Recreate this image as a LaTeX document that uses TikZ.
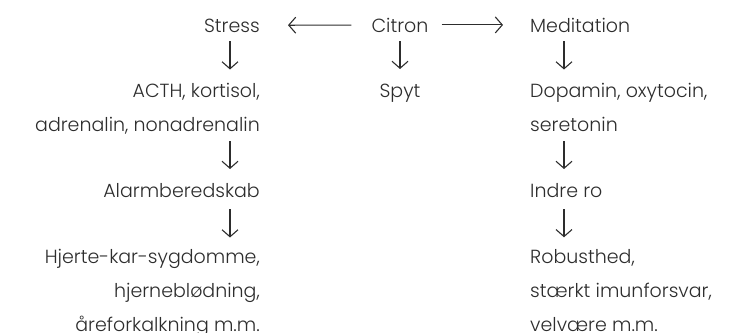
\documentclass[tikz,border=0pt]{standalone}
\usepackage{fontspec}
\setmainfont{Poppins}[UprightFont=* Light]
\usetikzlibrary{arrows.meta}

\definecolor{inkgray}{RGB}{45,45,45}
\tikzset{
  txt/.style={inner sep=0pt, text=inkgray, font=\fontsize{19}{34}\selectfont},
  flow/.style={draw=inkgray, line width=1.1pt,
    -{Straight Barb[length=7pt,width=16pt]}},
}

\begin{document}
\begin{tikzpicture}[x=1pt,y=1pt]
    \useasboundingbox (0,0) rectangle (741,-332);
    \coordinate (lcol) at (230,0);
    \coordinate (mcol) at (400,0);
    \coordinate (rcol) at (564,0);
    % middle
    \node[txt, anchor=base] (citron) at (400,-32) {Citron};
    \node[txt, anchor=base] (spyt) at (400,-97) {Spyt};
    % stress side
    \node[txt, anchor=base east] (stress) at (260,-32) {Stress};
    \node[txt, anchor=north east, align=right] (hormstress) at (260,-83)
      {ACTH, kortisol,\\adrenalin, nonadrenalin};
    \node[txt, anchor=base east] (alarm) at (260,-197) {Alarmberedskab};
    \node[txt, anchor=north east, align=right] (illness) at (260,-249)
      {Hjerte-kar-sygdomme,\\hjerneblødning,\\åreforkalkning m.m.};
    % meditation side
    \node[txt, anchor=base west] (medit) at (530,-32) {Meditation};
    \node[txt, anchor=north west, align=left] (hormmedit) at (530,-83)
      {Dopamin, oxytocin,\\seretonin};
    \node[txt, anchor=base west] (calm) at (530,-197) {Indre ro};
    \node[txt, anchor=north west, align=left] (health) at (530,-249)
      {Robusthed,\\stærkt imunforsvar,\\velvære m.m.};
    % arrows (base of a block is its last line)
    \draw[flow, shorten <=20pt, shorten >=28pt] (citron) -- (stress);
    \draw[flow, shorten <=13pt, shorten >=27pt] (citron) -- (medit);
    \draw[flow] ([yshift=-9pt]citron.base -| mcol) -- ([yshift=28pt]spyt.base -| mcol);
    \draw[flow] ([yshift=-9pt]stress.base -| lcol) -- ([yshift=62pt]hormstress.base -| lcol);
    \draw[flow] ([yshift=-10pt]hormstress.base -| lcol) -- ([yshift=28pt]alarm.base -| lcol);
    \draw[flow] ([yshift=-12pt]alarm.base -| lcol) -- ([yshift=94pt]illness.base -| lcol);
    \draw[flow] ([yshift=-9pt]medit.base -| rcol) -- ([yshift=62pt]hormmedit.base -| rcol);
    \draw[flow] ([yshift=-10pt]hormmedit.base -| rcol) -- ([yshift=28pt]calm.base -| rcol);
    \draw[flow] ([yshift=-12pt]calm.base -| rcol) -- ([yshift=94pt]health.base -| rcol);
\end{tikzpicture}
\end{document}
